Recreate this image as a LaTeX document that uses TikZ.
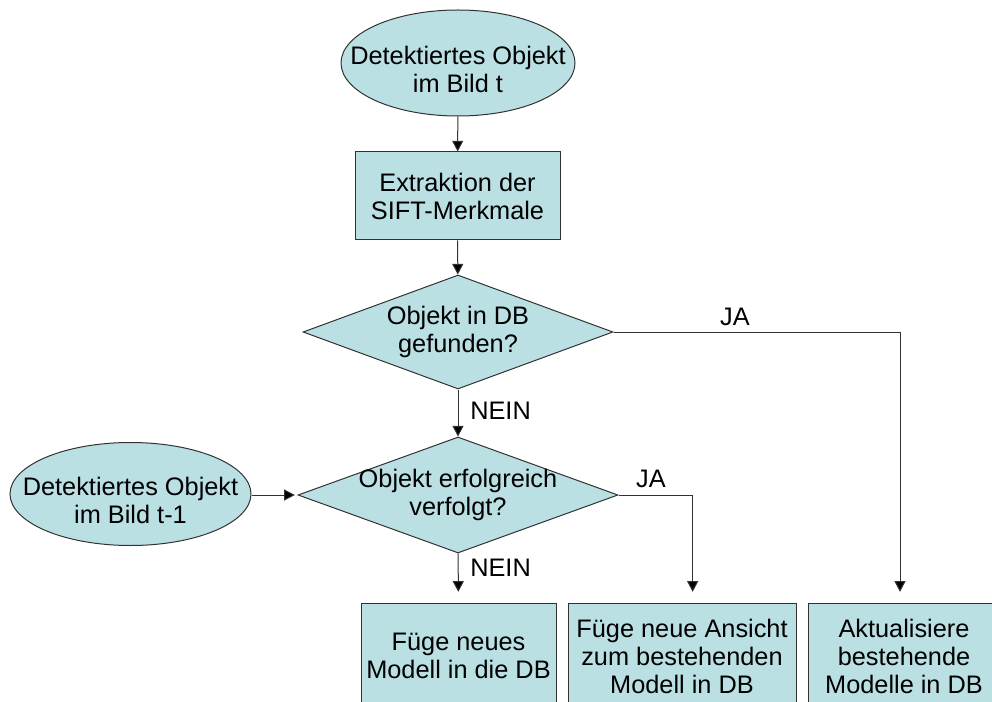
\documentclass[tikz,border=0pt]{standalone}
\usepackage{fontspec}
\setmainfont{Liberation Sans}
\usetikzlibrary{shapes.geometric,arrows.meta}
\definecolor{boxfill}{RGB}{186,224,228}
\definecolor{edgecol}{RGB}{50,50,50}
\begin{document}
\begin{tikzpicture}[x=0.75pt,y=-0.75pt,
  every node/.style={font=\fontsize{19}{21}\selectfont, text=black},
  shapebase/.style={draw=edgecol, fill=boxfill, line width=0.75pt, inner sep=0pt},
  term/.style={shapebase, ellipse},
  proc/.style={shapebase, rectangle, align=center},
  decision/.style={shapebase, diamond},
  conn/.style={draw=edgecol, line width=0.75pt, -{Triangle[length=8pt,width=8.25pt,fill=black]}},
  lbl/.style={inner sep=0pt}]
\useasboundingbox (0,0) rectangle (992,702);

\node[term, minimum width=175.5pt, minimum height=79.5pt,
      label={[align=center, yshift=-5pt]center:Detektiertes Objekt\\im Bild t}] (e1) at (458,63) {};
\node[proc, minimum width=153.75pt, minimum height=66pt] (r1) at (457.5,196) {Extraktion der\\SIFT-Merkmale};
\node[decision, minimum width=232.5pt, minimum height=85.5pt,
      label={[align=center]center:Objekt in DB\\gefunden?}] (d1) at (458,332) {};
\node[decision, minimum width=240pt, minimum height=87pt,
      label={[align=center]center:Objekt erfolgreich\\verfolgt?}] (d2) at (458,495) {};
\node[term, minimum width=180.75pt, minimum height=77.25pt,
      label={[align=center, yshift=-5pt]center:Detektiertes Objekt\\im Bild t-1}] (e2) at (130.5,494) {};
\node[proc, minimum width=146.25pt, minimum height=79.5pt] (rA) at (458.5,656) {Füge neues\\Modell in die DB};
\node[proc, minimum width=171pt, minimum height=79.5pt] (rB) at (682,656) {Füge neue Ansicht\\zum bestehenden\\Modell in DB};
\node[proc, minimum width=144pt, minimum height=79.5pt] (rC) at (904,656) {Aktualisiere\\bestehende\\Modelle in DB};

\draw[conn] (e1) -- (r1);
\draw[conn] (r1) -- (d1);
\draw[conn] (d1) -- (d2);
\draw[conn, shorten >=2pt] (e2.east |- d2.west) -- (d2.west);
\draw[conn, shorten >=8pt] (d2) -- (rA);
\draw[conn, shorten >=8pt] (d2.east) -| ([xshift=8pt]rB.north);
\draw[conn, shorten >=8pt] (d1.east) -| ([xshift=-3pt]rC.north);

\node[lbl, anchor=west] (n1) at (470,411) {NEIN};
\node[lbl, anchor=west] (n2) at (470,568) {NEIN};
\node[lbl] (j1) at (735,317) {JA};
\node[lbl] (j2) at (651,479) {JA};
\end{tikzpicture}
\end{document}
